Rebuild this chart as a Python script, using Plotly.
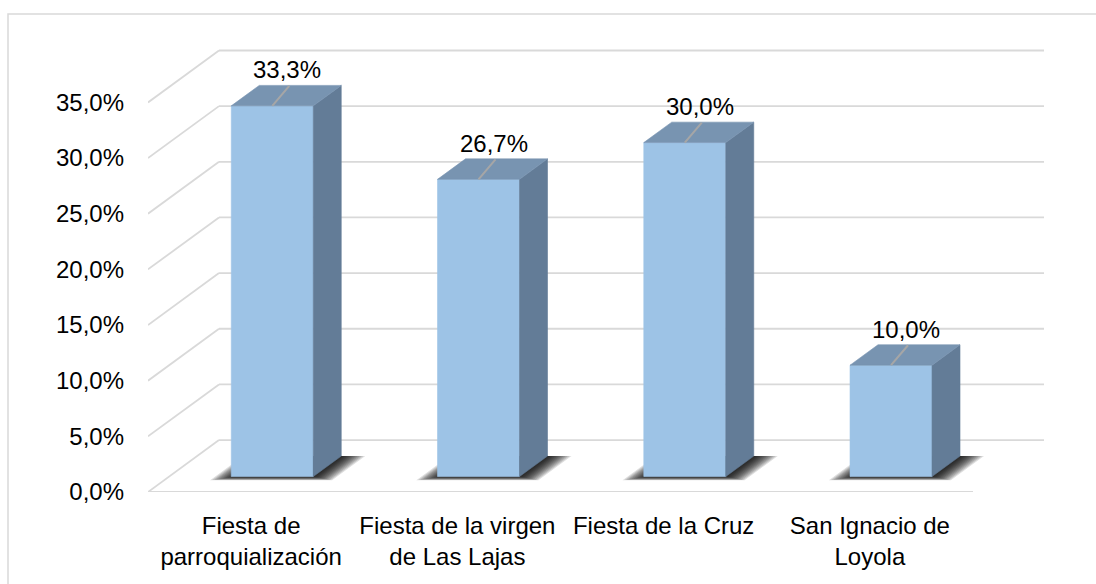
import plotly.graph_objects as go

# ---------------- data ----------------
categories = ["Fiesta de<br>parroquialización", "Fiesta de la virgen<br>de Las Lajas",
              "Fiesta de la Cruz", "San Ignacio de<br>Loyola"]
values = [33.3, 26.7, 30.0, 10.0]
value_labels = ["33,3%", "26,7%", "30,0%", "10,0%"]
y_ticks = [0, 5, 10, 15, 20, 25, 30, 35]
y_tick_labels = ["0,0%", "5,0%", "10,0%", "15,0%", "20,0%", "25,0%", "30,0%", "35,0%"]

# ---------------- geometry / style ----------------
W, H = 1096, 584
PX_CAT = 206.25          # pixels per category step
PX_PCT = 11.143          # pixels per percentage point
ML, MR, MT, MB = 148, 43, 40, 91.5
DEPTH_X = 71 / PX_CAT    # oblique offset of the full floor depth (x units)
DEPTH_Y = 52 / PX_PCT    # oblique offset of the full floor depth (y units)
D0, D1 = 0.298, 0.692    # bar front / back depth fraction
BAR_W = 82 / PX_CAT

FRONT = "#9DC3E6"
SIDE = "#637C97"
TOP = "#7894B1"
GRID = "#D9D9D9"
FONT = "Liberation Sans, Arial, sans-serif"
FS = 24

plot_w = W - ML - MR
plot_h = H - MT - MB
n = len(categories)
x_range = [-0.5, -0.5 + plot_w / PX_CAT]
y_range = [0, plot_h / PX_PCT]


def proj(x, d, y):
    return x + d * DEPTH_X, y + d * DEPTH_Y


fig = go.Figure()

# ---------------- walls / floor grid ----------------
gx, gy = [], []
for v in y_ticks:
    a = proj(-0.5, 1, v)
    b = proj(n - 0.5, 1, v)
    gx += [a[0], b[0], None]
    gy += [a[1], b[1], None]
    c = proj(-0.5, 0, v)
    gx += [c[0], a[0], None]
    gy += [c[1], a[1], None]
a = proj(-0.5, 0, 0)
b = proj(n - 0.5, 0, 0)
gx += [a[0], b[0], None]
gy += [a[1], b[1], None]
fig.add_trace(go.Scatter(x=gx, y=gy, mode="lines", line=dict(color=GRID, width=1.8),
                         hoverinfo="skip", showlegend=False))


def poly(pts, color, opacity=1.0, lw=0.6):
    xs = [p[0] for p in pts] + [pts[0][0]]
    ys = [p[1] for p in pts] + [pts[0][1]]
    fig.add_trace(go.Scatter(x=xs, y=ys, mode="lines", fill="toself", fillcolor=color,
                             line=dict(color=color, width=lw), opacity=opacity,
                             hoverinfo="skip", showlegend=False))


# ---------------- shadows (layered to imitate a blur) ----------------
NL = 12
for i, v in enumerate(values):
    xl = i - BAR_W / 2
    xr = i + BAR_W / 2
    for k in range(NL):
        t = k / (NL - 1)
        eL = (19 * (1 - t) - 3) / PX_CAT
        eR = (21 * (1 - t) + 3) / PX_CAT
        eF = (3.5 * (1 - t) + 0.3) / 52
        pts = [proj(xl - eL, D0 - eF, 0), proj(xr + eR, D0 - eF, 0),
               proj(xr + eR, D1, 0), proj(xl - eL, D1, 0)]
        poly(pts, "rgba(0,0,0,0.13)", lw=0)

# ---------------- bars ----------------
for i, v in enumerate(values):
    xl = i - BAR_W / 2
    xr = i + BAR_W / 2
    f_bl = proj(xl, D0, 0)
    f_br = proj(xr, D0, 0)
    f_tr = proj(xr, D0, v)
    f_tl = proj(xl, D0, v)
    b_br = proj(xr, D1, 0)
    b_tr = proj(xr, D1, v)
    b_tl = proj(xl, D1, v)
    poly([f_bl, f_br, f_tr, f_tl], FRONT)
    poly([f_br, b_br, b_tr, f_tr], SIDE)
    poly([f_tl, f_tr, b_tr, b_tl], TOP)

# ---------------- leader lines + labels ----------------
lx, ly = [], []
for i, (v, lab) in enumerate(zip(values, value_labels)):
    cx, cy = proj(i, D0, v)
    lx += [cx, cx + 17 / PX_CAT, None]
    ly += [cy, cy + 20 / PX_PCT, None]
    fig.add_annotation(x=cx + 15 / PX_CAT, y=cy + 36 / PX_PCT, text=lab, showarrow=False,
                       font=dict(family=FONT, size=FS, color="#000000"),
                       xanchor="center", yanchor="middle")
fig.add_trace(go.Scatter(x=lx, y=ly, mode="lines", line=dict(color="#A6A6A6", width=2),
                         hoverinfo="skip", showlegend=False))


# ---------------- outer border ----------------
def px_to_paper_x(px):
    return (px - ML) / plot_w


def px_to_paper_y(py):
    return (H - py - MB) / plot_h


fig.add_shape(type="rect", xref="paper", yref="paper",
              x0=px_to_paper_x(8), x1=px_to_paper_x(1110),
              y0=px_to_paper_y(600), y1=px_to_paper_y(14),
              line=dict(color=GRID, width=1.5), fillcolor="rgba(0,0,0,0)", layer="below")

fig.update_layout(
    width=W, height=H,
    margin=dict(l=ML, r=MR, t=MT, b=MB, pad=0),
    paper_bgcolor="white", plot_bgcolor="white",
    showlegend=False,
    font=dict(family=FONT, size=FS, color="#000000"),
    xaxis=dict(range=x_range, tickvals=list(range(n)), ticktext=categories,
               showgrid=False, zeroline=False, showline=False, ticks="",
               tickfont=dict(family=FONT, size=FS, color="#000000"),
               ticklabelstandoff=17, fixedrange=True),
    yaxis=dict(range=y_range, tickvals=y_ticks, ticktext=y_tick_labels,
               showgrid=False, zeroline=False, showline=False, ticks="",
               tickfont=dict(family=FONT, size=FS, color="#000000"),
               ticklabelstandoff=23, fixedrange=True),
)

fig.write_html("out.html", config={"displayModeBar": False},
               post_script="document.body.style.margin='0px';document.body.style.padding='0px';")
